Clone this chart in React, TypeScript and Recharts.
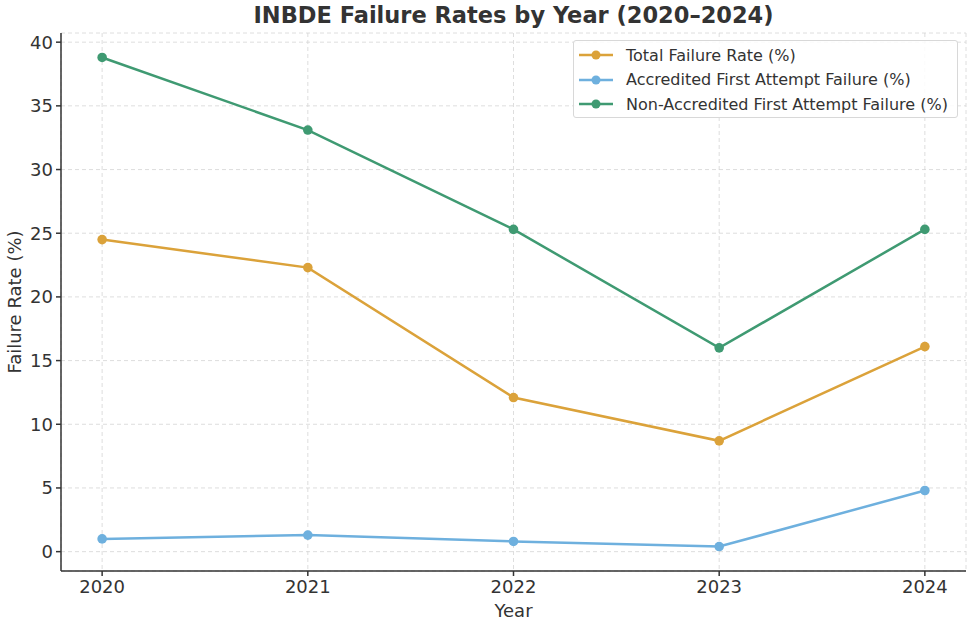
import React from "react";
import { LineChart, Line, XAxis, YAxis, CartesianGrid } from "recharts";

const years = [2020, 2021, 2022, 2023, 2024];
const totalFailure = [24.5, 22.3, 12.1, 8.7, 16.1];
const accreditedFailure = [1.0, 1.3, 0.8, 0.4, 4.8];
const nonAccreditedFailure = [38.8, 33.1, 25.3, 16.0, 25.3];
const yTicks = [0, 5, 10, 15, 20, 25, 30, 35, 40];

const seriesInfo = [
  { key: "total", name: "Total Failure Rate (%)", color: "#DBA23A" },
  { key: "accredited", name: "Accredited First Attempt Failure (%)", color: "#6EB0DE" },
  { key: "nonAccredited", name: "Non-Accredited First Attempt Failure (%)", color: "#3F9A72" },
];

const data = years.map((y, i) => ({
  year: y,
  total: totalFailure[i],
  accredited: accreditedFailure[i],
  nonAccredited: nonAccreditedFailure[i],
}));

const font = "'DejaVu Sans', sans-serif";

const LegendBox = () => (
  <div
    style={{
      position: "absolute",
      left: 573,
      top: 40,
      width: 385,
      height: 78,
      boxSizing: "border-box",
      border: "1px solid #d8d8d8",
      borderRadius: 3,
      background: "rgba(255,255,255,0.85)",
      padding: "2px 0 0 4px",
      fontFamily: font,
      fontSize: 16,
      color: "#333",
    }}
  >
    {seriesInfo.map((s) => (
      <div key={s.key} style={{ display: "flex", alignItems: "center", height: 24.5, whiteSpace: "nowrap" }}>
        <svg width={36} height={12} style={{ marginRight: 12 }}>
          <line x1={1} y1={6} x2={35} y2={6} stroke={s.color} strokeWidth={2.5} />
          <circle cx={18} cy={6} r={4.5} fill={s.color} />
        </svg>
        <span>{s.name}</span>
      </div>
    ))}
  </div>
);

const YLabel = () => (
  <text
    x={14}
    y={302}
    transform="rotate(-90, 14, 302)"
    textAnchor="middle"
    dominantBaseline="central"
    fill="#333"
    fontSize={18}
    fontFamily={font}
  >
    Failure Rate (%)
  </text>
);

export default function App() {
  return (
    <div style={{ position: "absolute", left: 0, top: 0, width: 973, height: 623, background: "#fff" }}>
      <LineChart
        width={973}
        height={623}
        data={data}
        margin={{ top: 33, right: 7, left: 11, bottom: 0 }}
        style={{ fontFamily: font }}
      >
        <CartesianGrid stroke="#d6d6d6" strokeDasharray="4 3" strokeWidth={0.8} />
        <XAxis
          dataKey="year"
          type="number"
          domain={[2019.8, 2024.2]}
          ticks={years}
          allowDataOverflow
          height={52}
          tickSize={5}
          tickMargin={4}
          stroke="#333"
          strokeWidth={1.5}
          tick={{ fill: "#333", fontSize: 18 }}
          label={{ value: "Year", position: "insideBottom", offset: 6, fill: "#333", fontSize: 18 }}
        />
        <YAxis
          type="number"
          domain={[-1.52, 40.72]}
          ticks={yTicks}
          allowDataOverflow
          width={50}
          tickSize={5}
          tickMargin={3}
          stroke="#333"
          strokeWidth={1.5}
          tick={{ fill: "#333", fontSize: 18 }}
          label={{ content: () => <YLabel /> }}
        />
        {seriesInfo.map((s) => (
          <Line
            key={s.key}
            dataKey={s.key}
            name={s.name}
            stroke={s.color}
            strokeWidth={2.5}
            dot={{ r: 4.8, fill: s.color, stroke: s.color, strokeWidth: 0 }}
            activeDot={false}
            isAnimationActive={false}
          />
        ))}
      </LineChart>
      <div
        style={{
          position: "absolute",
          left: 61,
          width: 905,
          top: 2,
          textAlign: "center",
          fontFamily: font,
          fontWeight: "bold",
          fontSize: 22.5,
          color: "#333",
        }}
      >
        INBDE Failure Rates by Year (2020–2024)
      </div>
      <LegendBox />
    </div>
  );
}
